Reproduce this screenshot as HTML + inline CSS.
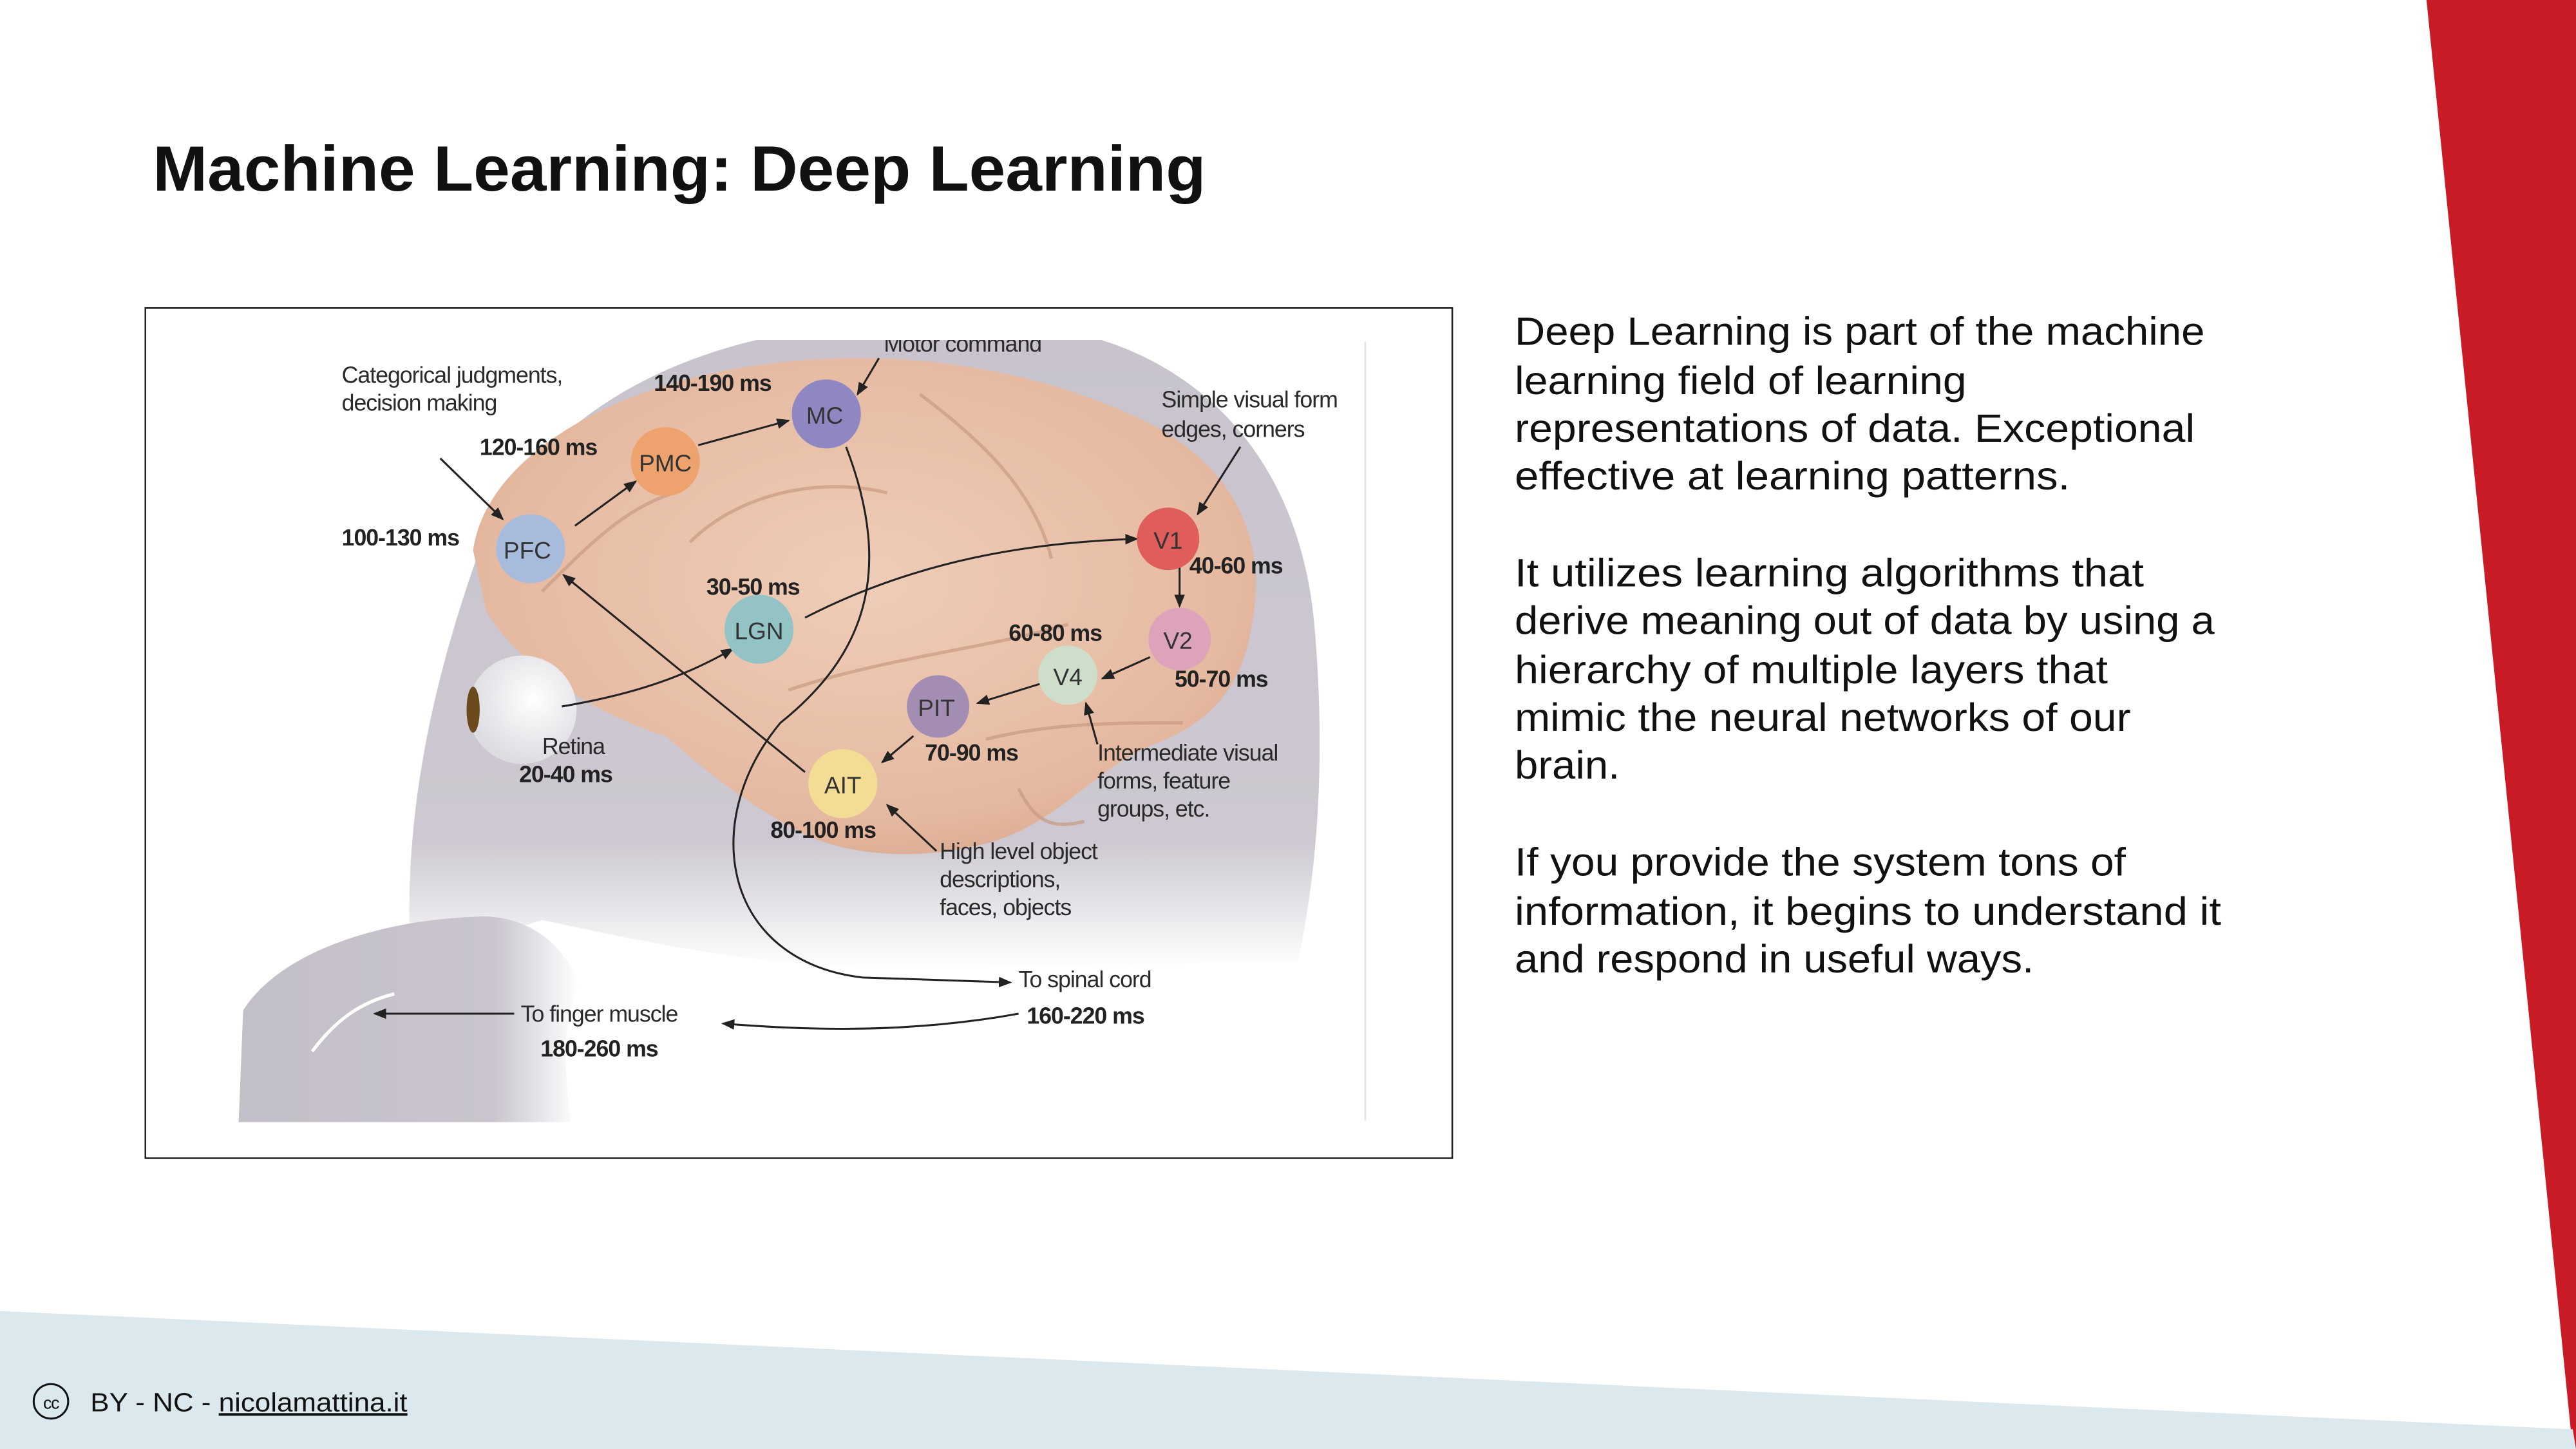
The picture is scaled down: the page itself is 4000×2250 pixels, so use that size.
<!DOCTYPE html>
<html><head><meta charset="utf-8"><style>
html,body{margin:0;padding:0;background:#fff;}
svg{display:block;}
</style></head><body>
<svg width="4000" height="2250" viewBox="0 0 1568 882" preserveAspectRatio="none" xmlns="http://www.w3.org/2000/svg">
<defs>
<marker id="ah" markerWidth="8" markerHeight="8" refX="7" refY="4" orient="auto" markerUnits="userSpaceOnUse">
<path d="M0,0.8 L8,4 L0,7.2 Z" fill="#222"/></marker>
<radialGradient id="brain" cx="0.5" cy="0.45" r="0.6">
<stop offset="0" stop-color="#efcdb8"/><stop offset="0.8" stop-color="#e5b9a0"/><stop offset="1" stop-color="#d9a88e"/></radialGradient>
<linearGradient id="headfade" x1="0" y1="0" x2="0" y2="1">
<stop offset="0" stop-color="#c8c3cd"/><stop offset="0.8" stop-color="#cdc8d1"/><stop offset="1" stop-color="#ffffff"/></linearGradient>
<linearGradient id="handfade" x1="0" y1="0" x2="1" y2="0">
<stop offset="0" stop-color="#c3bfc9"/><stop offset="0.75" stop-color="#c9c4ce"/><stop offset="1" stop-color="#ffffff"/></linearGradient>
<radialGradient id="eye" cx="0.6" cy="0.4" r="0.6"><stop offset="0" stop-color="#fff"/><stop offset="1" stop-color="#dcdce2"/></radialGradient>
<clipPath id="imgclip"><rect x="100" y="207" width="731" height="476"/></clipPath>
</defs>

<polygon points="1477,0 1568,0 1568,882 1566,882" fill="#c91b25"/>
<polygon points="0,798 1566,870 1568,882 0,882" fill="#dbe9ef"/>

<text x="93" y="116" font-family="Liberation Sans, sans-serif" font-weight="bold" font-size="39" fill="#111" textLength="641" lengthAdjust="spacingAndGlyphs">Machine Learning: Deep Learning</text>

<g font-family="Liberation Sans, sans-serif" font-size="24" fill="#111">
<text x="922" y="210" textLength="420" lengthAdjust="spacingAndGlyphs">Deep Learning is part of the machine</text>
<text x="922" y="240" textLength="275" lengthAdjust="spacingAndGlyphs">learning field of learning</text>
<text x="922" y="269" textLength="414" lengthAdjust="spacingAndGlyphs">representations of data. Exceptional</text>
<text x="922" y="298" textLength="338" lengthAdjust="spacingAndGlyphs">effective at learning patterns.</text>
<text x="922" y="357" textLength="383" lengthAdjust="spacingAndGlyphs">It utilizes learning algorithms that</text>
<text x="922" y="386" textLength="426" lengthAdjust="spacingAndGlyphs">derive meaning out of data by using a</text>
<text x="922" y="416" textLength="361" lengthAdjust="spacingAndGlyphs">hierarchy of multiple layers that</text>
<text x="922" y="445" textLength="375" lengthAdjust="spacingAndGlyphs">mimic the neural networks of our</text>
<text x="922" y="474" textLength="64" lengthAdjust="spacingAndGlyphs">brain.</text>
<text x="922" y="533" textLength="372" lengthAdjust="spacingAndGlyphs">If you provide the system tons of</text>
<text x="922" y="563" textLength="430" lengthAdjust="spacingAndGlyphs">information, it begins to understand it</text>
<text x="922" y="592" textLength="316" lengthAdjust="spacingAndGlyphs">and respond in useful ways.</text>
</g>

<rect x="88.5" y="187.5" width="795.5" height="517.5" fill="#fff" stroke="#222" stroke-width="1"/>
<line x1="831" y1="208" x2="831" y2="682" stroke="#e4e4e4" stroke-width="1"/>

<g clip-path="url(#imgclip)">
<path d="M250,585 C245,500 262,420 290,340 C320,262 400,212 500,200 L640,200 C720,212 790,270 800,380 C808,470 800,540 790,585 L560,590 C470,590 400,575 330,560 Z" fill="url(#headfade)"/>
<path d="M145,690 L148,615 C170,580 230,560 290,558 C320,556 345,575 352,600 C340,630 345,660 348,690 Z" fill="url(#handfade)"/>
<path d="M190,640 C205,620 220,610 240,605" stroke="#fff" stroke-width="2" fill="none"/>
<path d="M288,335 C295,285 355,245 430,228 C520,208 620,218 700,258 C752,285 772,330 762,380 C756,420 735,440 705,452 C668,466 645,500 605,512 C565,524 520,522 490,508 C455,490 428,468 405,448 C365,436 315,405 296,372 Z" fill="url(#brain)"/>
<g stroke="#c99a82" stroke-width="2" fill="none" opacity="0.7">
<path d="M420,330 C450,300 500,290 540,300"/>
<path d="M560,240 C600,270 630,300 640,340"/>
<path d="M480,420 C540,400 600,395 650,380"/>
<path d="M600,450 C640,440 680,440 720,440"/>
<path d="M330,360 C360,330 380,310 410,300"/>
<path d="M620,480 C630,500 640,505 660,500"/>
</g>
<circle cx="318" cy="432" r="33" fill="url(#eye)"/>
<ellipse cx="288" cy="432" rx="4" ry="14" fill="#6b4a1e"/>

<g stroke="#222" stroke-width="1.2" fill="none" marker-end="url(#ah)">
<line x1="268" y1="279" x2="306" y2="316"/>
<line x1="350" y1="320" x2="387" y2="293"/>
<line x1="425" y1="271" x2="480" y2="256"/>
<line x1="535" y1="218" x2="522" y2="240"/>
<path d="M515,272 C545,350 525,400 475,440 C425,500 440,585 525,595 L615,598"/>
<path d="M342,430 C390,422 420,410 446,395"/>
<path d="M490,376 C560,340 630,330 692,328"/>
<line x1="755" y1="272" x2="729" y2="313"/>
<line x1="718" y1="344" x2="718" y2="369"/>
<line x1="700" y1="400" x2="671" y2="413"/>
<line x1="634" y1="416" x2="595" y2="428"/>
<line x1="556" y1="448" x2="537" y2="464"/>
<line x1="668" y1="453" x2="661" y2="428"/>
<line x1="570" y1="518" x2="540" y2="490"/>
<line x1="490" y1="470" x2="343" y2="350"/>
<path d="M620,617 C560,628 500,628 440,623"/>
<line x1="313" y1="617" x2="228" y2="617"/>
</g>

<g font-family="Liberation Sans, sans-serif" font-size="14.5" fill="#333" text-anchor="middle">
<circle cx="323" cy="334" r="21" fill="#a7bcdc"/><text x="321" y="340">PFC</text>
<circle cx="405" cy="281" r="21" fill="#eea36f"/><text x="405" y="287">PMC</text>
<circle cx="503" cy="252" r="21" fill="#8e87c2"/><text x="502" y="258">MC</text>
<circle cx="462" cy="383" r="21" fill="#94c3c6"/><text x="462" y="389">LGN</text>
<circle cx="711" cy="328" r="19" fill="#df5d5a"/><text x="711" y="334">V1</text>
<circle cx="718" cy="389" r="19" fill="#dca3bb"/><text x="717" y="395">V2</text>
<circle cx="650" cy="411" r="18" fill="#cfdecb"/><text x="650" y="417">V4</text>
<circle cx="571" cy="430" r="19" fill="#a38db3"/><text x="570" y="436">PIT</text>
<circle cx="513" cy="477" r="21" fill="#f3dd94"/><text x="513" y="483">AIT</text>
</g>

<g font-family="Liberation Sans, sans-serif" font-size="14" fill="#2a2a2a" letter-spacing="-0.4">
<text x="208" y="233">Categorical judgments,</text>
<text x="208" y="250">decision making</text>
<text x="538" y="214">Motor command</text>
<text x="707" y="248">Simple visual form</text>
<text x="707" y="266">edges, corners</text>
<text x="330" y="459">Retina</text>
<text x="668" y="463">Intermediate visual</text>
<text x="668" y="480">forms, feature</text>
<text x="668" y="497">groups, etc.</text>
<text x="572" y="523">High level object</text>
<text x="572" y="540">descriptions,</text>
<text x="572" y="557">faces, objects</text>
<text x="620" y="601">To spinal cord</text>
<text x="317" y="622">To finger muscle</text>
</g>
<g font-family="Liberation Sans, sans-serif" font-size="14" font-weight="bold" fill="#222" letter-spacing="-0.4">
<text x="398" y="238">140-190 ms</text>
<text x="292" y="277">120-160 ms</text>
<text x="208" y="332">100-130 ms</text>
<text x="724" y="349">40-60 ms</text>
<text x="430" y="362">30-50 ms</text>
<text x="614" y="390">60-80 ms</text>
<text x="715" y="418">50-70 ms</text>
<text x="316" y="476">20-40 ms</text>
<text x="563" y="463">70-90 ms</text>
<text x="469" y="510">80-100 ms</text>
<text x="625" y="623">160-220 ms</text>
<text x="329" y="643">180-260 ms</text>
</g>
</g>

<circle cx="31" cy="853" r="10.5" fill="none" stroke="#111" stroke-width="1.2"/>
<text x="31" y="857.5" font-family="Liberation Sans, sans-serif" font-size="10.5" fill="#111" text-anchor="middle" letter-spacing="-0.5">cc</text>
<text x="55" y="859" font-family="Liberation Sans, sans-serif" font-size="16" fill="#111" textLength="193" lengthAdjust="spacingAndGlyphs">BY - NC - <tspan text-decoration="underline">nicolamattina.it</tspan></text>
</svg>
</body></html>
